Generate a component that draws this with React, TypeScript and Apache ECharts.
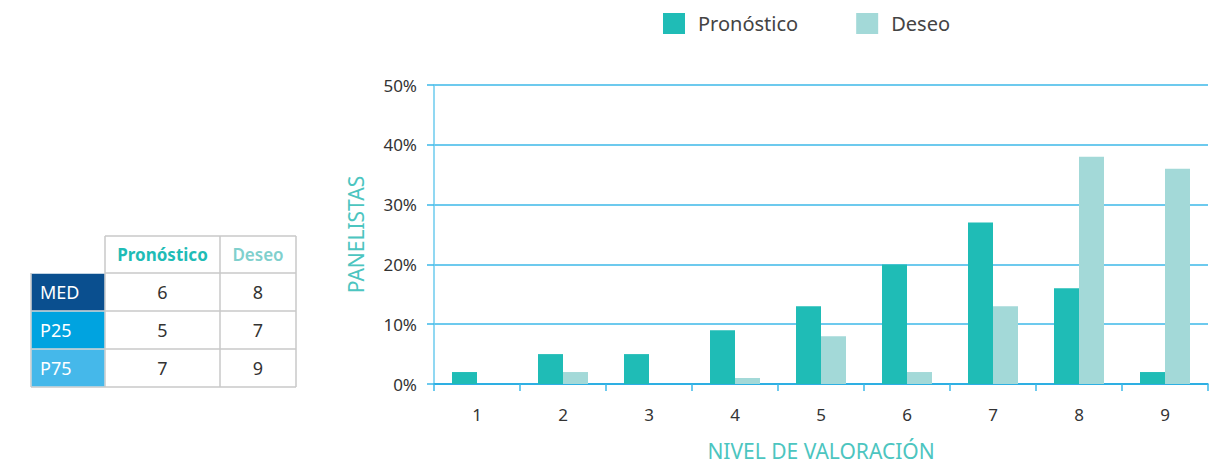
import React, { useEffect, useRef } from "react";
import * as echarts from "echarts";

const categories = ["1", "2", "3", "4", "5", "6", "7", "8", "9"];
const pronostico = [2, 5, 5, 9, 13, 20, 27, 16, 2];
const deseo = [0, 2, 0, 1, 8, 2, 13, 38, 36];
const seriesNames = ["Pronóstico", "Deseo"];
const yTicks = [0, 10, 20, 30, 40, 50];
const tableRows = ["MED", "P25", "P75"];
const pronosticoStats = [6, 5, 7];
const deseoStats = [8, 7, 9];

const C_PRON = "#1FBCB6";
const C_DES = "#A3D9D8";
const FONT = "'Noto Sans', sans-serif";

function buildTable() {
  const xs = [31, 105, 220, 296];
  const ys = [236, 273, 311, 349, 387];
  const rowColors = ["#0A4F8F", "#00A3E0", "#45B8EA"];
  const border = "#c9c9c9";
  const els: any[] = [];
  tableRows.forEach((r, i) => {
    const vals = [pronosticoStats[i], deseoStats[i]];
    vals.forEach((v, j) => {
      els.push({
        type: "text",
        x: (xs[j + 1] + xs[j + 2]) / 2,
        y: (ys[i + 1] + ys[i + 2]) / 2,
        style: { text: String(v), fill: "#333333", font: `18px ${FONT}`, verticalAlign: "middle", align: "center" },
      });
    });
  });
  els.push({
    type: "text",
    x: (xs[1] + xs[2]) / 2,
    y: (ys[0] + ys[1]) / 2,
    style: { text: seriesNames[0], fill: C_PRON, font: `bold 17px ${FONT}`, verticalAlign: "middle", align: "center" },
  });
  els.push({
    type: "text",
    x: (xs[2] + xs[3]) / 2,
    y: (ys[0] + ys[1]) / 2,
    style: { text: seriesNames[1], fill: "#80D0CD", font: `600 17px ${FONT}`, verticalAlign: "middle", align: "center" },
  });
  const ls = { stroke: border, lineWidth: 1.5 };
  els.push({ type: "line", shape: { x1: xs[1], y1: ys[0], x2: xs[3], y2: ys[0] }, style: ls });
  for (let k = 1; k < ys.length; k++) {
    els.push({ type: "line", shape: { x1: k === 1 ? xs[1] : xs[0], y1: ys[k], x2: xs[3], y2: ys[k] }, style: ls });
  }
  els.push({ type: "line", shape: { x1: xs[0], y1: ys[1], x2: xs[0], y2: ys[4] }, style: ls });
  for (let k = 1; k < xs.length; k++) {
    els.push({ type: "line", shape: { x1: xs[k], y1: ys[0], x2: xs[k], y2: ys[4] }, style: ls });
  }
  tableRows.forEach((r, i) => {
    els.push({
      type: "rect",
      shape: { x: xs[0] + 0.75, y: ys[i + 1] + 0.75, width: xs[1] - xs[0] - 1.5, height: ys[i + 2] - ys[i + 1] - 1.5 },
      style: { fill: rowColors[i] },
      z: 5,
    });
    els.push({
      type: "text",
      x: xs[0] + 9,
      y: (ys[i + 1] + ys[i + 2]) / 2,
      z: 6,
      style: { text: r, fill: "#ffffff", font: `18px ${FONT}`, verticalAlign: "middle", align: "left" },
    });
  });
  return els;
}

export default function App() {
  const ref = useRef<HTMLDivElement>(null);
  useEffect(() => {
    const chart = echarts.init(ref.current!, undefined, { renderer: "svg" });
    chart.setOption({
      animation: false,
      textStyle: { fontFamily: FONT },
      legend: {
        left: 658,
        top: 8,
        itemWidth: 22,
        itemHeight: 21,
        itemGap: 58,
        icon: "rect",
        textStyle: { fontSize: 20, color: "#444444", padding: [0, 0, 0, 8] },
        data: seriesNames,
      },
      grid: { left: 434, right: 18, top: 85, bottom: 79 },
      xAxis: {
        type: "category",
        data: categories,
        name: "NIVEL DE VALORACIÓN",
        nameLocation: "middle",
        nameGap: 56,
        nameTextStyle: { color: "#4CC5C0", fontSize: 21 },
        axisLine: { lineStyle: { color: "#1AA6DF", width: 1.5 } },
        axisTick: { show: true, length: 7, lineStyle: { color: "#3DB8E8", width: 1.5 } },
        axisLabel: { color: "#333333", fontSize: 17, margin: 22 },
      },
      yAxis: {
        type: "value",
        min: yTicks[0],
        max: yTicks[yTicks.length - 1],
        interval: 10,
        name: "PANELISTAS",
        nameLocation: "middle",
        nameRotate: 90,
        nameGap: 68,
        nameTextStyle: { color: "#4CC5C0", fontSize: 21 },
        axisLine: { show: true, lineStyle: { color: "#6CCBEE", width: 1.5 } },
        axisTick: { show: true, length: 7, lineStyle: { color: "#3DB8E8", width: 1.5 } },
        axisLabel: { color: "#333333", fontSize: 17, margin: 17, formatter: "{value}%" },
        splitLine: { show: true, lineStyle: { color: "#3DB8E8", width: 1.5 } },
      },
      series: [
        {
          name: seriesNames[0],
          type: "bar",
          data: pronostico,
          barWidth: 25,
          barGap: "0%",
          itemStyle: { color: C_PRON },
          z: 3,
        },
        {
          name: seriesNames[1],
          type: "bar",
          data: deseo,
          barWidth: 25,
          barGap: "0%",
          itemStyle: { color: C_DES },
          z: 3,
        },
      ],
      graphic: buildTable(),
    });
    return () => chart.dispose();
  }, []);
  return <div ref={ref} style={{ width: 1226, height: 466, position: "absolute", left: 0, top: 0 }} />;
}
